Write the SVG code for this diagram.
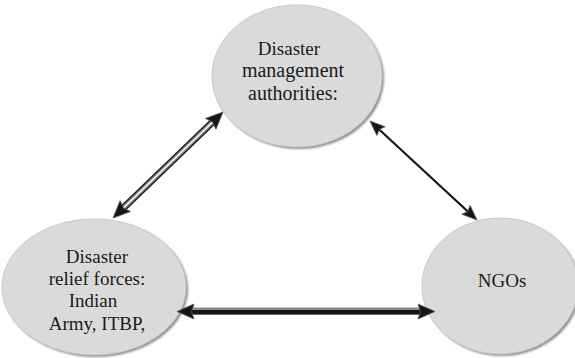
<svg xmlns="http://www.w3.org/2000/svg" xmlns:xlink="http://www.w3.org/1999/xlink" width="575" height="358" viewBox="0 0 575 358">
  <style>
    .shadow { fill: #8e8e8e; }
    .disc { fill: #dadadb; stroke: #c9c9ca; stroke-width: 1; }
    .label { font-family: "Liberation Serif", "Times New Roman", serif; font-size: 19px; fill: #1a1a1a; text-anchor: middle; }
    .head { fill: #151515; stroke: #5a5a5a; stroke-width: 0.8; stroke-linejoin: round; }
  </style>
  <defs>
    <filter id="soft" x="-10%" y="-10%" width="120%" height="120%">
      <feGaussianBlur stdDeviation="1.2"/>
    </filter>
    <!-- arrowheads point along +x with the tip at the origin -->
    <path id="headWide" class="head" d="M0,0 L-17,-7.5 L-14.5,0 L-17,7.5 Z"/>
    <path id="headThin" class="head" d="M0,0 L-15,-6 L-12.5,0 L-15,6 Z"/>
  </defs>

  <rect width="575" height="358" fill="#ffffff"/>

  <g id="node-authorities">
    <ellipse class="shadow" cx="299" cy="78" rx="85" ry="71" filter="url(#soft)"/>
    <ellipse class="disc" cx="297" cy="76" rx="85" ry="71"/>
    <text class="label" x="289" y="55">Disaster</text>
    <text class="label" x="293" y="77" style="font-size:20px">management</text>
    <text class="label" x="293" y="100" style="font-size:20px">authorities:</text>
  </g>

  <g id="node-relief">
    <ellipse class="shadow" cx="96" cy="289" rx="92" ry="68" filter="url(#soft)"/>
    <ellipse class="disc" cx="94" cy="287" rx="92" ry="68"/>
    <text class="label" x="97" y="263">Disaster</text>
    <text class="label" x="97" y="285">relief forces:</text>
    <text class="label" x="93" y="307">Indian</text>
    <text class="label" x="97" y="330">Army, ITBP,</text>
  </g>

  <g id="node-ngos">
    <ellipse class="shadow" cx="502" cy="288" rx="78" ry="68" filter="url(#soft)"/>
    <ellipse class="disc" cx="500" cy="286" rx="78" ry="68"/>
    <text class="label" x="502" y="287">NGOs</text>
  </g>

  <g id="connectors">
    <!-- relief forces <-> authorities: double-ruled shaft -->
    <path d="M123.1,208.3 L212.9,121.7" stroke="#1e1e1e" stroke-width="7" fill="none"/>
    <path d="M123.1,208.3 L212.9,121.7" stroke="#8a8a8a" stroke-width="4" fill="none"/>
    <path d="M123.1,208.3 L212.9,121.7" stroke="#ffffff" stroke-width="1.3" fill="none"/>
    <use xlink:href="#headWide" transform="translate(223,112) rotate(-43.9)"/>
    <use xlink:href="#headWide" transform="translate(113,218) rotate(136.1)"/>

    <!-- authorities <-> NGOs: thin shaft -->
    <path d="M377.3,127.8 L469.7,213.2" stroke="#151515" stroke-width="2.2" fill="none"/>
    <use xlink:href="#headThin" transform="translate(477,220) rotate(42.8)"/>
    <use xlink:href="#headThin" transform="translate(370,121) rotate(-137.2)"/>

    <!-- relief forces <-> NGOs: heavy shaft with light upper edge -->
    <path d="M190,311 L422,311" stroke="#8a8a8a" stroke-width="7" fill="none"/>
    <path d="M190,312.3 L422,312.3" stroke="#151515" stroke-width="4.4" fill="none"/>
    <use xlink:href="#headWide" transform="translate(435,311.5)"/>
    <use xlink:href="#headWide" transform="translate(177,311.5) rotate(180)"/>
  </g>
</svg>
